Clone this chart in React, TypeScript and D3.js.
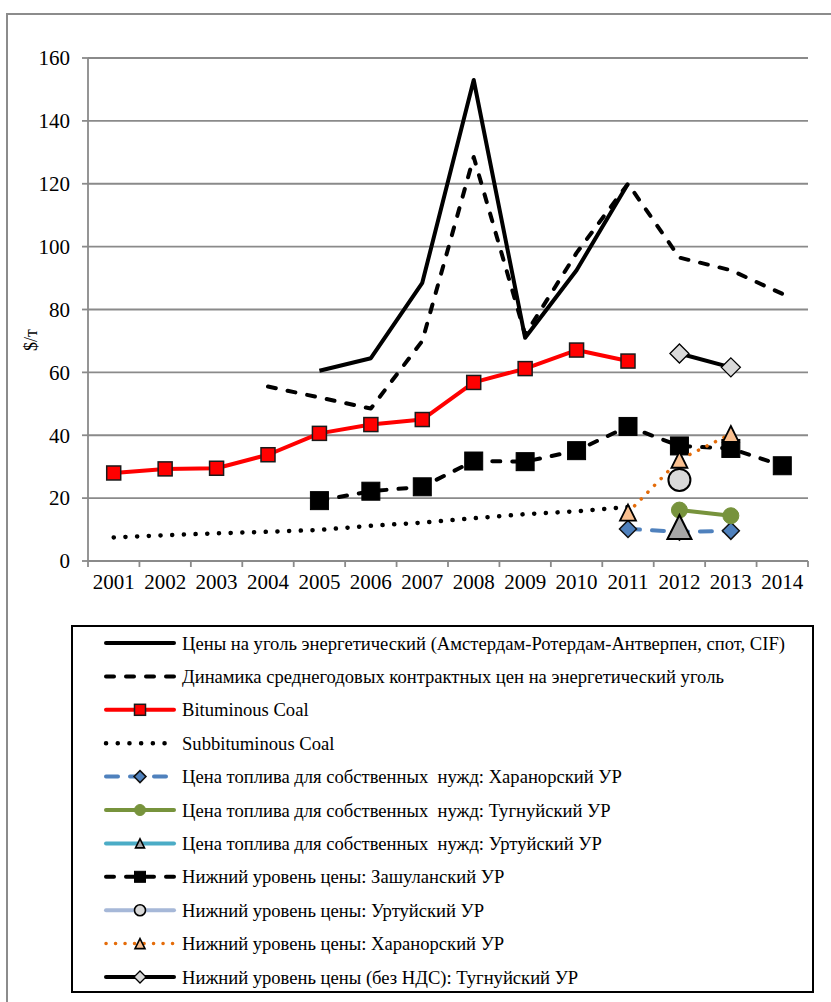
import React from "react";
import * as d3 from "d3";

const years = ["2001","2002","2003","2004","2005","2006","2007","2008","2009","2010","2011","2012","2013","2014"];
const yTicks = [0, 20, 40, 60, 80, 100, 120, 140, 160];

type V = number | null;
const araPrices: V[] = [null, null, null, null, 60.5, 64.5, 88.5, 153, 71, 92.5, 120, null, null, null];
const contractPrices: V[] = [null, null, null, 55.5, 52, 48.5, 70, 128.5, 72, 98, 120, 96.5, 92.5, 85];
const bituminous: V[] = [28, 29.3, 29.5, 33.8, 40.6, 43.4, 45, 56.8, 61.2, 67.1, 63.6, null, null, null];
const subbituminous: V[] = [7.5, 8.2, 8.8, 9.3, 9.9, 11.2, 12.2, 13.6, 14.9, 15.8, 17.2, null, null, null];
const kharanorFuel: V[] = [null, null, null, null, null, null, null, null, null, null, 10.2, 9.3, 9.6, null];
const tugnuiFuel: V[] = [null, null, null, null, null, null, null, null, null, null, null, 16.2, 14.4, null];
const urtuiFuel: V[] = [null, null, null, null, null, null, null, null, null, null, null, 10.8, null, null];
const zashulanLow: V[] = [null, null, null, null, 19.2, 22.2, 23.6, 31.8, 31.6, 35.1, 42.8, 36.6, 35.8, 30.3];
const urtuiLow: V[] = [null, null, null, null, null, null, null, null, null, null, null, 25.8, null, null];
const kharanorLow: V[] = [null, null, null, null, null, null, null, null, null, null, 15.4, 32.2, 40.4, null];
const tugnuiLowNoVat: V[] = [null, null, null, null, null, null, null, null, null, null, null, 66, 61.6, null];

const seriesNames = [
  "Цены на уголь энергетический (Амстердам-Ротердам-Антверпен, спот, CIF)",
  "Динамика среднегодовых контрактных цен на энергетический уголь",
  "Bituminous Coal",
  "Subbituminous Coal",
  "Цена топлива для собственных  нужд: Харанорский УР",
  "Цена топлива для собственных  нужд: Тугнуйский УР",
  "Цена топлива для собственных  нужд: Уртуйский УР",
  "Нижний уровень цены: Зашуланский УР",
  "Нижний уровень цены: Уртуйский УР",
  "Нижний уровень цены: Харанорский УР",
  "Нижний уровень цены (без НДС): Тугнуйский УР",
];

type MarkerType = "none" | "square" | "diamond" | "circle" | "triangle";
interface SeriesStyle {
  data: V[];
  color: string;
  width: number;
  dash?: string;
  cap?: "round" | "butt";
  marker: MarkerType;
  mSize: number;
  mFill: string;
  mStroke: string;
  mStrokeW: number;
  lmSize: number;
}

const series: SeriesStyle[] = [
  { data: araPrices, color: "#000", width: 4, marker: "none", mSize: 0, mFill: "", mStroke: "", mStrokeW: 0, lmSize: 0 },
  { data: contractPrices, color: "#000", width: 4, dash: "8 12", cap: "round", marker: "none", mSize: 0, mFill: "", mStroke: "", mStrokeW: 0, lmSize: 0 },
  { data: bituminous, color: "#ff0000", width: 4, marker: "square", mSize: 14, mFill: "#ff0000", mStroke: "#1a1a1a", mStrokeW: 1.5, lmSize: 11 },
  { data: subbituminous, color: "#000", width: 4.5, dash: "0.1 11.6", cap: "round", marker: "none", mSize: 0, mFill: "", mStroke: "", mStrokeW: 0, lmSize: 0 },
  { data: kharanorFuel, color: "#4f81bd", width: 4, dash: "12 12", cap: "round", marker: "diamond", mSize: 17, mFill: "#4f81bd", mStroke: "#111", mStrokeW: 1.5, lmSize: 12 },
  { data: tugnuiFuel, color: "#77933c", width: 4, marker: "circle", mSize: 16, mFill: "#77933c", mStroke: "#77933c", mStrokeW: 1, lmSize: 11 },
  { data: urtuiFuel, color: "#4bacc6", width: 4, marker: "triangle", mSize: 24, mFill: "#a6a6a6", mStroke: "#000", mStrokeW: 2, lmSize: 9 },
  { data: zashulanLow, color: "#000", width: 4, dash: "8 12", cap: "round", marker: "square", mSize: 18, mFill: "#000", mStroke: "#000", mStrokeW: 1, lmSize: 11 },
  { data: urtuiLow, color: "#a6b8d8", width: 4, marker: "circle", mSize: 22, mFill: "#d9d9d9", mStroke: "#000", mStrokeW: 2, lmSize: 11 },
  { data: kharanorLow, color: "#e46c0a", width: 3.5, dash: "0.1 9.4", cap: "round", marker: "triangle", mSize: 16, mFill: "#fac090", mStroke: "#000", mStrokeW: 1.8, lmSize: 10 },
  { data: tugnuiLowNoVat, color: "#000", width: 4, marker: "diamond", mSize: 19, mFill: "#d9d9d9", mStroke: "#000", mStrokeW: 1.3, lmSize: 12 },
];

function Marker({ type, x, y, size, fill, stroke, sw }: { type: MarkerType; x: number; y: number; size: number; fill: string; stroke: string; sw: number }) {
  const h = size / 2;
  if (type === "square") return <rect x={x - h} y={y - h} width={size} height={size} fill={fill} stroke={stroke} strokeWidth={sw} />;
  if (type === "circle") return <circle cx={x} cy={y} r={h} fill={fill} stroke={stroke} strokeWidth={sw} />;
  if (type === "diamond") return <path d={`M${x},${y - h}L${x + h},${y}L${x},${y + h}L${x - h},${y}Z`} fill={fill} stroke={stroke} strokeWidth={sw} strokeLinejoin="miter" />;
  if (type === "triangle") return <path d={`M${x},${y - h}L${x + h},${y + h}L${x - h},${y + h}Z`} fill={fill} stroke={stroke} strokeWidth={sw} strokeLinejoin="miter" />;
  return null;
}

const FONT = '"Liberation Serif", Tinos, "Times New Roman", "DejaVu Serif", serif';

export default function App() {
  const W = 831, H = 1002;
  const left = 88, right = 808, top = 58, bottom = 561;
  const x = d3.scaleBand<string>().domain(years).range([left, right]);
  const y = d3.scaleLinear().domain([0, 160]).range([bottom, top]);
  const cx = (i: number) => (x(years[i]) as number) + x.bandwidth() / 2;
  const txt = { fontFamily: FONT, whiteSpace: "pre" as const };

  const line = d3.line<V>()
    .defined((d) => d != null)
    .x((_, i) => cx(i))
    .y((d) => y(d as number));

  const legendTop = 643;
  const legendStep = 33.4;

  return (
    <svg width={W} height={H} style={{ position: "absolute", left: 0, top: 0, background: "#fff", fontFamily: FONT }}>
      <rect x={0} y={0} width={W} height={H} fill="#fff" />
      <rect x={7} y={14} width={W + 20} height={H + 20} fill="none" stroke="#8c8c8c" strokeWidth={2} />

      {yTicks.filter((t) => t > 0).map((t) => (
        <line key={t} x1={left} x2={right} y1={y(t)} y2={y(t)} stroke="#8a8a8a" strokeWidth={1.8} />
      ))}
      <line x1={left} x2={left} y1={top} y2={bottom} stroke="#8a8a8a" strokeWidth={1.8} />
      <line x1={left} x2={right} y1={bottom} y2={bottom} stroke="#8a8a8a" strokeWidth={1.8} />
      {yTicks.map((t) => (
        <g key={t}>
          <line x1={left - 6} x2={left} y1={y(t)} y2={y(t)} stroke="#8a8a8a" strokeWidth={1.8} />
          <text x={70} y={y(t)} dy="0.35em" textAnchor="end" fontSize={21} fill="#000" style={txt}>{t}</text>
        </g>
      ))}
      {years.map((yr) => (
        <line key={"t" + yr} x1={x(yr) as number} x2={x(yr) as number} y1={bottom} y2={bottom + 6} stroke="#8a8a8a" strokeWidth={1.8} />
      ))}
      <line x1={right} x2={right} y1={bottom} y2={bottom + 6} stroke="#8a8a8a" strokeWidth={1.8} />
      {years.map((yr, i) => (
        <text key={yr} x={cx(i)} y={589} textAnchor="middle" fontSize={21} fill="#000" style={txt}>{yr}</text>
      ))}
      <text transform={`translate(37,340) rotate(-90)`} textAnchor="middle" fontSize={18} fill="#000" style={txt}>$/т</text>

      {series.map((s, si) => (
        <g key={si}>
          <path d={line(s.data) || ""} fill="none" stroke={s.color} strokeWidth={s.width}
            strokeDasharray={s.dash} strokeLinecap={s.cap || "butt"} strokeLinejoin="round" />
          {s.marker !== "none" && s.data.map((v, i) => v == null ? null : (
            <Marker key={i} type={s.marker} x={cx(i)} y={y(v)} size={s.mSize} fill={s.mFill} stroke={s.mStroke} sw={s.mStrokeW} />
          ))}
        </g>
      ))}

      <rect x={72} y={626} width={741} height={366} fill="none" stroke="#000" strokeWidth={2} />
      {series.map((s, i) => {
        const ly = legendTop + i * legendStep;
        return (
          <g key={"lg" + i}>
            <line x1={106} x2={174} y1={ly} y2={ly} stroke={s.color} strokeWidth={s.width}
              strokeDasharray={s.dash} strokeLinecap={s.cap || "round"} />
            {s.marker !== "none" && (
              <Marker type={s.marker} x={140} y={ly} size={s.lmSize} fill={s.mFill} stroke={s.mStroke} sw={Math.min(s.mStrokeW, 1.6)} />
            )}
            <text x={182} y={ly} dy="0.35em" fontSize={18.6} fill="#000" style={txt}>{seriesNames[i]}</text>
          </g>
        );
      })}
    </svg>
  );
}
